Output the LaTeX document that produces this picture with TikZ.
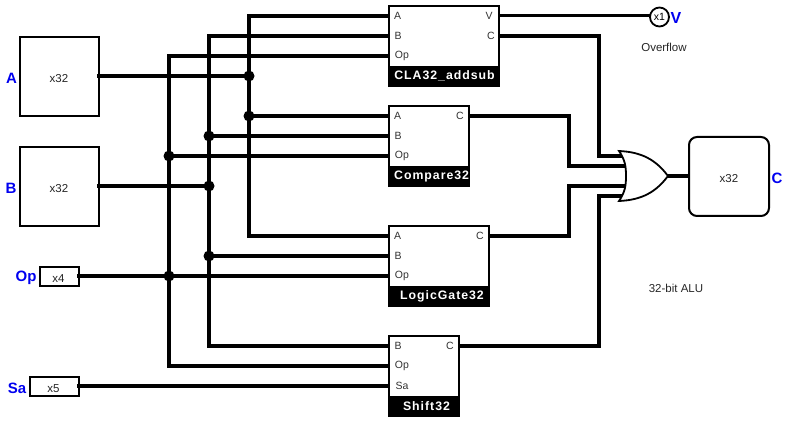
\documentclass[tikz,border=0pt]{standalone}
\usepackage{fontspec}
\setmainfont{Liberation Sans}
\newfontfamily\blockfont[LetterSpace=8]{Liberation Sans Bold}
\definecolor{labelblue}{RGB}{0,0,240}
\tikzset{
  wire/.style={line width=4pt,line join=miter,line cap=butt},
  thinwire/.style={line width=3pt},
  box/.style={draw,line width=2pt,fill=white,anchor=north west,inner sep=0pt,outer sep=0pt},
  blockname/.style={text=white,inner sep=0pt,font=\blockfont\fontsize{12.3}{13}\selectfont},
  pin/.style={font=\fontsize{10.5}{11}\selectfont,text=black!80,inner sep=0pt},
  small/.style={font=\fontsize{11.5}{12}\selectfont,text=black!85,inner sep=0pt},
  portlabel/.style={font=\bfseries\fontsize{15}{16}\selectfont,text=labelblue,inner sep=0pt},
  junction/.style={circle,fill=black,inner sep=0pt,minimum size=11pt}
}
\begin{document}
\begin{tikzpicture}[x=1pt,y=-1pt]
\useasboundingbox (0,0) rectangle (788,422);

% input / output boxes
\node[box,minimum width=79pt,minimum height=79pt] (inA) at (20,37) {};
\node[box,minimum width=79pt,minimum height=79pt] (inB) at (20,147) {};
\node[box,minimum width=39pt,minimum height=19pt] (inOp) at (40,267) {};
\node[box,minimum width=49pt,minimum height=19pt] (inSa) at (30,377) {};
\node[small] at (59,78.5) {x32};
\node[small] at (59,188.5) {x32};
\node[small] at (58.5,279) {x4};
\node[small] at (53.5,389) {x5};
\node[portlabel] at (11.5,78) {A};
\node[portlabel] at (11,188) {B};
\node[portlabel] at (26,278) {Op};
\node[portlabel] at (17,388) {Sa};

% junction coordinates
\coordinate (busAtop) at (249,16);
\coordinate (busBtop) at (209,36);
\coordinate (busOptop) at (169,56);
\coordinate (busAbot) at (249,236);
\coordinate (busBbot) at (209,346);
\coordinate (busObot) at (169,366);
\coordinate (outA) at (97,76);
\coordinate (outB) at (97,186);
\coordinate (outOp) at (77,276);
\coordinate (outSa) at (77,386);

% pins
\coordinate (claA) at (389,16);\coordinate (claB) at (389,36);\coordinate (claOp) at (389,56);
\coordinate (cmpA) at (389,116);\coordinate (cmpB) at (389,136);\coordinate (cmpOp) at (389,156);
\coordinate (logA) at (389,236);\coordinate (logB) at (389,256);\coordinate (logOp) at (389,276);
\coordinate (shB) at (389,346);\coordinate (shOp) at (389,366);\coordinate (shSa) at (389,386);
\coordinate (claV) at (499,16);\coordinate (claC) at (499,36);
\coordinate (cmpC) at (469,116);\coordinate (logC) at (489,236);\coordinate (shC) at (459,346);

\coordinate (j1) at (249,76);\coordinate (j2) at (249,116);\coordinate (j3) at (209,136);
\coordinate (j4) at (169,156);\coordinate (j5) at (209,186);\coordinate (j6) at (209,256);
\coordinate (j7) at (169,276);

% OR gate inputs
\coordinate (or1) at (622,156);\coordinate (or2) at (625,166);
\coordinate (or3) at (625,186);\coordinate (or4) at (622,196);

% wires
\draw[wire] (outA) -- (j1);
\draw[wire] (outB) -- (j5);
\draw[wire] (outOp) -- (logOp);
\draw[wire] (outSa) -- (shSa);
\draw[wire] (claA) -- (busAtop) -- (busAbot) -- (logA);
\draw[wire] (claB) -- (busBtop) -- (busBbot) -- (shB);
\draw[wire] (claOp) -- (busOptop) -- (busObot) -- (shOp);
\draw[wire] (j2) -- (cmpA);
\draw[wire] (j3) -- (cmpB);
\draw[wire] (j4) -- (cmpOp);
\draw[wire] (j6) -- (logB);
\draw[wire] (claC) -| (599,156) -- (or1);
\draw[wire] (cmpC) -| (569,166) -- (or2);
\draw[wire] (logC) -| (569,186) -- (or3);
\draw[wire] (shC) -| (599,196) -- (or4);

\foreach \j in {j1,j2,j3,j4,j5,j6,j7} \node[junction] at (\j) {};

% blocks
\node[box,minimum width=110pt,minimum height=80pt] (cla) at (389,6) {};
\fill (389,66) rectangle (500,87);
\node[pin] at (397.5,16) {A};\node[pin] at (398,36) {B};\node[pin] at (402,56) {Op};
\node[pin] at (489,15.5) {V};\node[pin] at (491,36) {C};
\node[blockname] at (444.5,76) {CLA32\_addsub};

\node[box,minimum width=80pt,minimum height=80pt] (cmp) at (389,106) {};
\fill (389,166) rectangle (470,187);
\node[pin] at (397.5,116) {A};\node[pin] at (398,136) {B};\node[pin] at (402,156) {Op};
\node[pin] at (460,116) {C};
\begin{scope}
\clip (389,166) rectangle (470,187);
\node[blockname,anchor=west] at (394,176) {Compare32};
\end{scope}

\node[box,minimum width=100pt,minimum height=80pt] (log) at (389,226) {};
\fill (389,286) rectangle (490,307);
\node[pin] at (397.5,236) {A};\node[pin] at (398,256) {B};\node[pin] at (402,276) {Op};
\node[pin] at (480,236) {C};
\node[blockname] at (442,296) {LogicGate32};

\node[box,minimum width=70pt,minimum height=80pt] (sh) at (389,336) {};
\fill (389,396) rectangle (460,417);
\node[pin] at (398,346) {B};\node[pin] at (402,366) {Op};\node[pin] at (402,386) {Sa};
\node[pin] at (450,346) {C};
\node[blockname] at (426.5,406) {Shift32};

% overflow output
\node[circle,draw,line width=1.8pt,minimum size=19pt,inner sep=0pt,outer sep=0pt,fill=white,font=\fontsize{10.5}{11}\selectfont] (vout) at (659.5,17) {x1};
\draw[thinwire] (claV) -- (vout.west |- claV);
\node[portlabel,font=\bfseries\fontsize{16}{17}\selectfont] at (676,17.5) {V};
\node[small] at (664,47) {Overflow};

% OR gate
\coordinate (ortip) at (668,176);
\draw[line width=1.8pt,fill=white,line join=miter] (619,151)
  .. controls (642,152) and (656,160) .. (ortip)
  .. controls (656,192) and (642,200) .. (619,201)
  .. controls (625,192) and (626,186) .. (626,176)
  .. controls (626,166) and (625,160) .. (619,151) -- cycle;
\node[inner sep=0pt,minimum size=0pt] (orgate) at (ortip) {};

% output
\node[box,rounded corners=8pt,minimum width=80pt,minimum height=79pt] (outC) at (689,137) {};
\draw[wire] (orgate) -- (outC.west |- orgate);
\node[small] at (729,179) {x32};
\node[portlabel] at (777,178) {C};
\node[small] at (676,288) {32-bit ALU};
\end{tikzpicture}
\end{document}
